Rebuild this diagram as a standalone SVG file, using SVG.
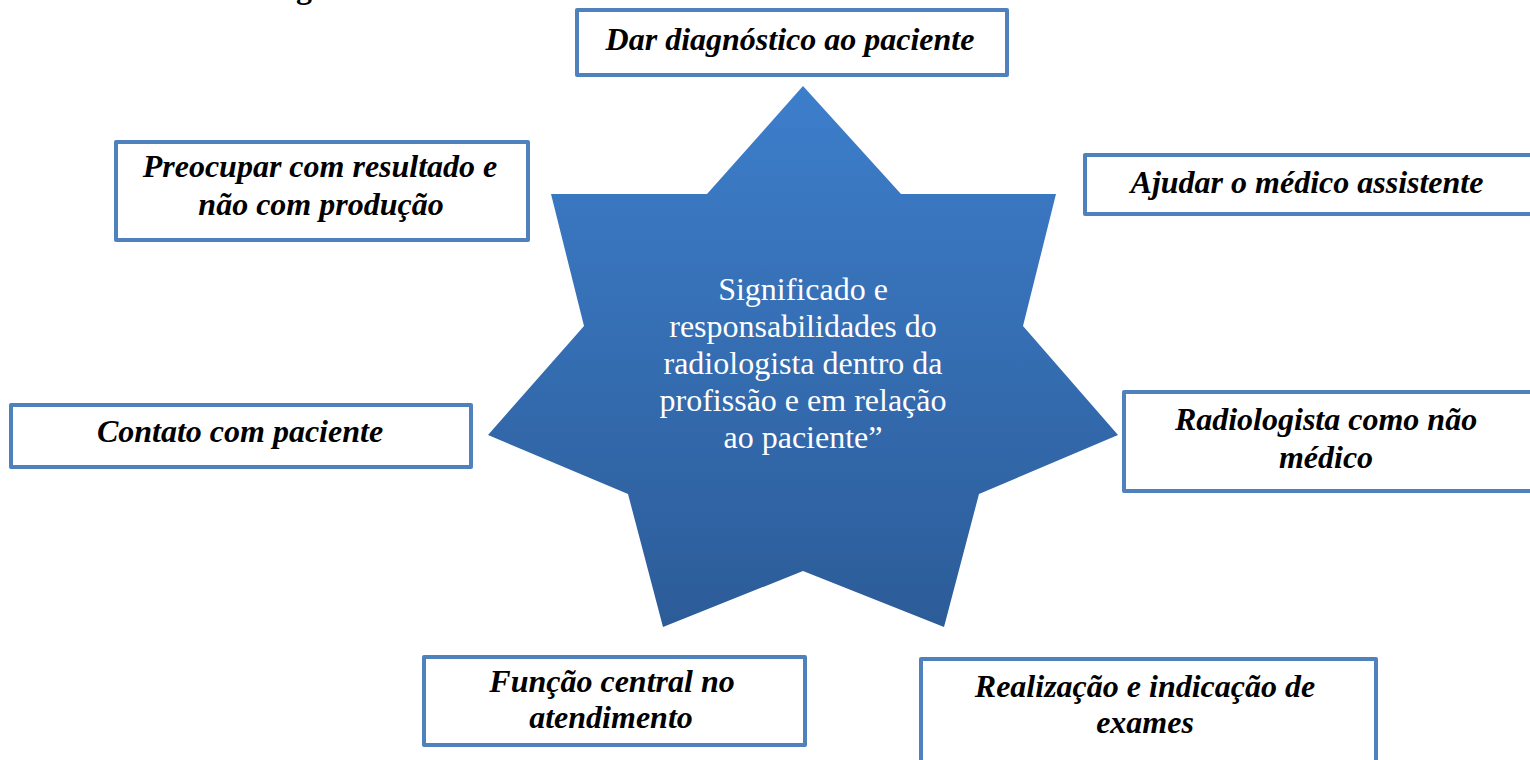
<svg xmlns="http://www.w3.org/2000/svg" width="1530" height="760" viewBox="0 0 1530 760">
  <style>
    .box { fill: #ffffff; stroke: #4f81bd; stroke-width: 4; stroke-linejoin: round; }
    .lbl { font-family: "Liberation Serif", "Times New Roman", serif; font-size: 32px; font-weight: bold; font-style: italic; fill: #000000; text-anchor: middle; }
    .ctr { font-family: "Liberation Serif", "Times New Roman", serif; font-size: 32px; fill: #ffffff; text-anchor: middle; }
    .frag { font-family: "Liberation Serif", "Times New Roman", serif; font-size: 32px; font-weight: bold; fill: #000000; }
  </style>
  <defs>
    <linearGradient id="starGrad" x1="0" y1="0" x2="0" y2="1">
      <stop offset="0" stop-color="#3d7ecb"/>
      <stop offset="1" stop-color="#2c5c98"/>
    </linearGradient>
  </defs>
  <rect x="0" y="0" width="1530" height="760" fill="#ffffff"/>

  <text class="frag" x="296" y="-2">g</text>

  <g id="connectors"></g>

  <g id="center">
    <polygon points="803,86 901,194 1056,194 1023,326 1118,435 979,494 944,627 803,571 663,627 628,494 488,435 584,326 551,194 707,194" fill="url(#starGrad)"/>
    <text class="ctr" x="803" y="300">Significado e</text>
    <text class="ctr" x="803" y="337">responsabilidades do</text>
    <text class="ctr" x="803" y="374">radiologista dentro da</text>
    <text class="ctr" x="803" y="411">profissão e em relação</text>
    <text class="ctr" x="803" y="448">ao paciente”</text>
  </g>

  <g id="n-dar">
    <rect class="box" x="577" y="10" width="430" height="65"/>
    <text class="lbl" x="790" y="50">Dar diagnóstico ao paciente</text>
  </g>

  <g id="n-preocupar">
    <rect class="box" x="116" y="142" width="412" height="98"/>
    <text class="lbl" x="320" y="177">Preocupar com resultado e</text>
    <text class="lbl" x="321" y="215">não com produção</text>
  </g>

  <g id="n-ajudar">
    <rect class="box" x="1085" y="155" width="470" height="59"/>
    <text class="lbl" x="1307" y="193">Ajudar o médico assistente</text>
  </g>

  <g id="n-contato">
    <rect class="box" x="11" y="405" width="460" height="62"/>
    <text class="lbl" x="240" y="442">Contato com paciente</text>
  </g>

  <g id="n-radiologista">
    <rect class="box" x="1124" y="392" width="430" height="99"/>
    <text class="lbl" x="1326" y="430">Radiologista como não</text>
    <text class="lbl" x="1326" y="468">médico</text>
  </g>

  <g id="n-funcao">
    <rect class="box" x="424" y="657" width="381" height="88"/>
    <text class="lbl" x="612" y="692">Função central no</text>
    <text class="lbl" x="611" y="728">atendimento</text>
  </g>

  <g id="n-realizacao">
    <rect class="box" x="921" y="659" width="455" height="130"/>
    <text class="lbl" x="1145" y="697">Realização e indicação de</text>
    <text class="lbl" x="1145" y="733">exames</text>
  </g>
</svg>
